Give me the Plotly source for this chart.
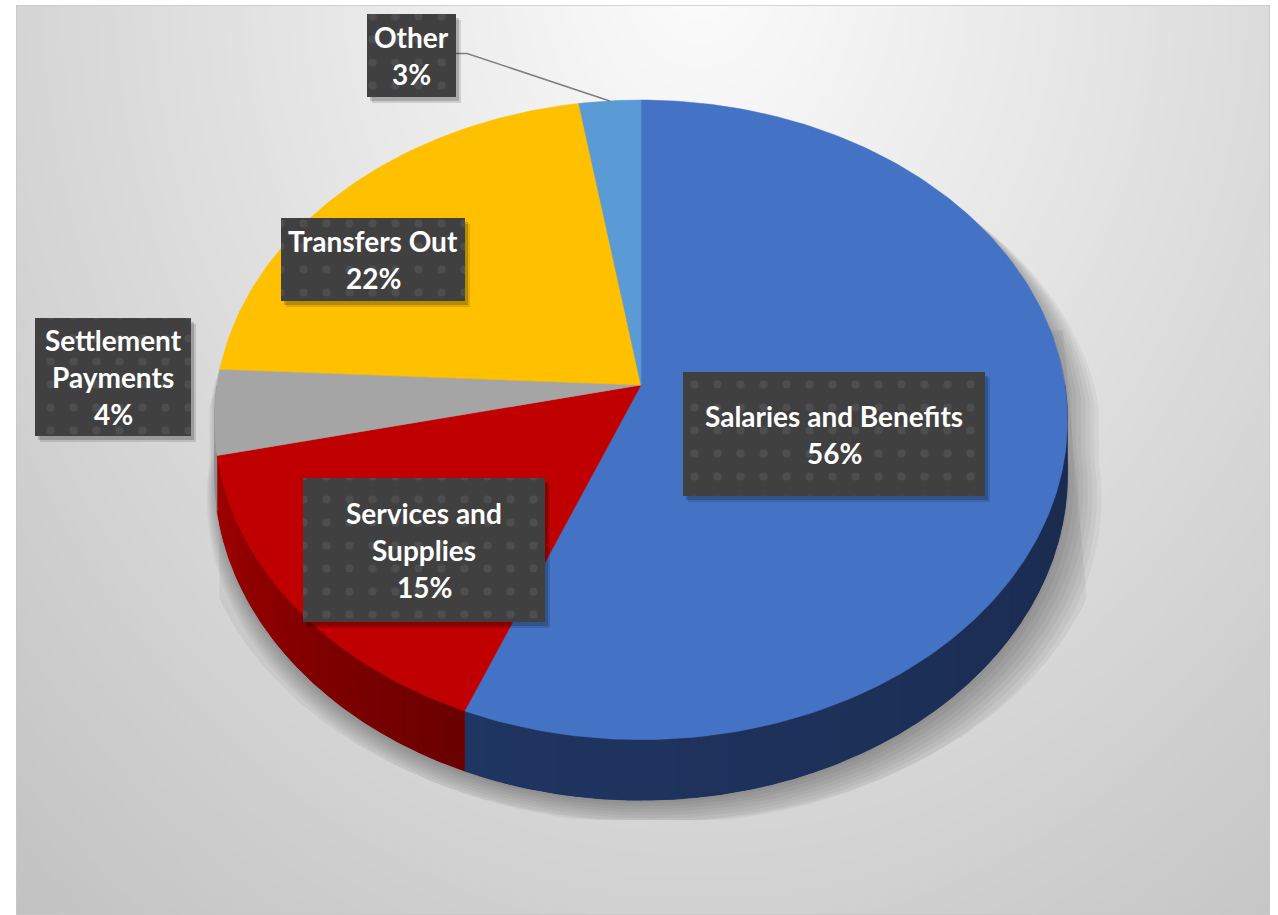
import numpy as np
import plotly.graph_objects as go

# ---------------- data ----------------
categories = ["Salaries and Benefits", "Services and Supplies", "Settlement Payments", "Transfers Out", "Other"]
values = [56.1, 15.4, 4.3, 21.6, 2.6]          # percent of total
display_names = ["Salaries and Benefits", "Services and<br>Supplies", "Settlement<br>Payments", "Transfers Out", "Other"]

# ---------------- style ----------------
top_colors = ["#4472C4", "#C00000", "#A5A5A5", "#FFC000", "#5B9BD5"]
side_colors = [("#1a2a4c", "#1f3562"), ("#6a0000", "#a00000"), ("#8a8a8a", "#9a9a9a"),
               ("#b38600", "#b38600"), ("#40709a", "#40709a")]
# label boxes in screen pixels (x0, x1, y0, y1)
boxes = [(683, 985, 372, 496), (303, 545, 478, 622), (35, 191, 318, 436), (281, 465, 218, 301), (367, 456, 14, 97)]
LINE_GAP = 37
FONT = "Lato"
FONT_SIZE = 28

W, H = 1278, 915
CX, CY = 641, 385          # pie centre on screen
RX, RY = 424, 316          # radii
K = 0.109                  # perspective strength
DEPTH = 54                 # thickness of the pie
SHADOW_FLOOR = 820


def rim(theta, drop=0.0):
    t = np.radians(np.asarray(theta, dtype=float))
    X, Z = np.sin(t), np.cos(t)
    f = 1.0 / (1.0 + K * Z)
    return CX + RX * X * f, CY - RY * Z * f + drop * f


def hex2rgb(h):
    h = h.lstrip("#")
    return np.array([int(h[i:i + 2], 16) for i in (0, 2, 4)], dtype=float)


def lerp_color(c1, c2, t):
    c = hex2rgb(c1) * (1 - t) + hex2rgb(c2) * t
    return "rgb(%d,%d,%d)" % tuple(np.round(c))


def poly(x, y, color, line_w=0.0):
    return go.Scatter(x=x, y=y, mode="lines", fill="toself",
                      line=dict(width=line_w, color=color), fillcolor=color,
                      hoverinfo="skip", showlegend=False)


total = sum(values)
angles = np.concatenate([[0], np.cumsum(values) / total * 360.0])

fig = go.Figure()

# ---- cast shadow under the pie ----
low_t = np.linspace(246, 114, 100)
lx0, ly0 = rim(low_t, DEPTH)
ax_ = CX + (lx0 - CX) * 1.07 + 12
ay_ = np.minimum(ly0 + 22, SHADOW_FLOOR)
fig.add_trace(poly(np.concatenate([[219], ax_, [1063]]),
                   np.concatenate([[385], ay_, [330]]), "rgba(0,0,0,0.05)"))
back_t = np.linspace(-90, 90, 121)
front_t = np.linspace(90, 270, 121)
bx, by = rim(back_t)
fx, fy = rim(front_t, DEPTH)
sil_x = np.concatenate([bx, fx])
sil_y = np.concatenate([by, fy])
for j in range(8):
    sx = 1.0 + 0.007 * j
    dx, dy = 2 + 1.6 * j, 3 + 3.0 * j
    fig.add_trace(poly(CX + (sil_x - CX) * sx + dx, np.minimum(sil_y + dy, SHADOW_FLOOR), "rgba(0,0,0,0.04)"))

# ---- side walls (front half only) ----
for i in range(len(values)):
    a, b = angles[i], angles[i + 1]
    s, e = max(a, 90.0), min(b, 270.0)
    if s >= e:
        continue
    tt = np.linspace(s, e, int(e - s) + 3)
    tx, ty = rim(tt)
    lx, ly = rim(tt[::-1], DEPTH)
    mid_col = lerp_color(side_colors[i][0], side_colors[i][1], 0.5)
    fig.add_trace(poly(np.concatenate([tx, lx]), np.concatenate([ty, ly]), mid_col, 0.6))
    n = int(np.ceil((e - s) / 3.0))
    edges = np.linspace(s, e, n + 1)
    for k in range(n):
        t0, t1 = edges[k], min(edges[k + 1] + 1.0, e)
        tt = np.linspace(t0, t1, 6)
        tx, ty = rim(tt)
        lx, ly = rim(tt[::-1], DEPTH)
        col = lerp_color(side_colors[i][0], side_colors[i][1],
                         ((edges[k] + edges[k + 1]) / 2 - s) / max(e - s, 1e-9))
        fig.add_trace(poly(np.concatenate([tx, lx]), np.concatenate([ty, ly]), col))

# ---- top faces ----
for i in range(len(values)):
    tt = np.linspace(angles[i], angles[i + 1], max(int(angles[i + 1] - angles[i]) + 2, 3))
    px, py = rim(tt)
    fig.add_trace(go.Scatter(
        x=np.concatenate([[CX], px, [CX]]), y=np.concatenate([[CY], py, [CY]]),
        mode="lines", fill="toself", line=dict(width=0.5, color=top_colors[i]),
        fillcolor=top_colors[i], name=categories[i],
        hovertext="%s: %d%%" % (categories[i], round(values[i])), hoverinfo="text",
        showlegend=False))

# ---- leader line for the smallest slice ----
mid = (angles[-2] + angles[-1]) / 2
mx, my = rim([mid])
ox0, ox1, oy0, oy1 = boxes[4]
fig.add_trace(go.Scatter(
    x=[ox1, ox1 + 11, mx[0]], y=[(oy0 + oy1) / 2 - 2, (oy0 + oy1) / 2 - 2, my[0]],
    mode="lines", line=dict(color="#7f7f7f", width=1.5), hoverinfo="skip", showlegend=False))

# ---- label boxes ----
annotations = []
for i in range(len(values)):
    x0, x1, y0, y1 = boxes[i]
    for (ddx, ddy, al) in [(5, 6, 0.12), (3, 4, 0.18)]:
        fig.add_trace(poly([x0 + ddx, x1 + ddx, x1 + ddx, x0 + ddx, x0 + ddx],
                           [y0 + ddy, y0 + ddy, y1 + ddy, y1 + ddy, y0 + ddy],
                           "rgba(0,0,0,%.2f)" % al))
    fig.add_trace(go.Scatter(
        x=[x0, x1, x1, x0, x0], y=[y0, y0, y1, y1, y0],
        mode="lines", fill="toself", line=dict(width=0, color="#404040"),
        fillcolor="#404040",
        fillpattern=dict(shape=".", bgcolor="#404040", fgcolor="#5c5c5c", size=23, solidity=0.1),
        hoverinfo="skip", showlegend=False))
    lines = display_names[i].split("<br>") + ["%d%%" % round(values[i])]
    cy = (y0 + y1) / 2
    nl = len(lines)
    for j, txt in enumerate(lines):
        annotations.append(dict(
            x=(x0 + x1) / 2, y=cy + (j - (nl - 1) / 2) * LINE_GAP, xref="x", yref="y",
            text="<b>%s</b>" % txt, showarrow=False, xanchor="center", yanchor="middle",
            font=dict(family=FONT, size=FONT_SIZE, color="white")))

# ---- background radial gradient ----
shapes = []
GX, GY, GA, GB = 700, -30, 740, 920
levels = np.linspace(1.6, 0.02, 130)
for d in levels:
    g = max(192.0, min(252.0, 252 - 42 * d))
    shapes.append(dict(type="circle", xref="x", yref="y", layer="below",
                       x0=GX - GA * d, x1=GX + GA * d, y0=GY - GB * d, y1=GY + GB * d,
                       fillcolor="rgb(%.1f,%.1f,%.1f)" % (g, g, g), line=dict(width=0)))
shapes.append(dict(type="rect", xref="x", yref="y", layer="below",
                   x0=16, x1=1270, y0=5, y1=915, line=dict(color="#c8c8c8", width=1.5)))

fig.update_layout(
    width=W, height=H,
    margin=dict(l=16, r=8, t=5, b=0),
    paper_bgcolor="white", plot_bgcolor="rgb(192,192,192)",
    xaxis=dict(range=[16, 1270], visible=False, fixedrange=True),
    yaxis=dict(range=[915, 5], visible=False, fixedrange=True),
    shapes=shapes, annotations=annotations, showlegend=False,
)

fig.write_html("out.html", config={"displayModeBar": False})
